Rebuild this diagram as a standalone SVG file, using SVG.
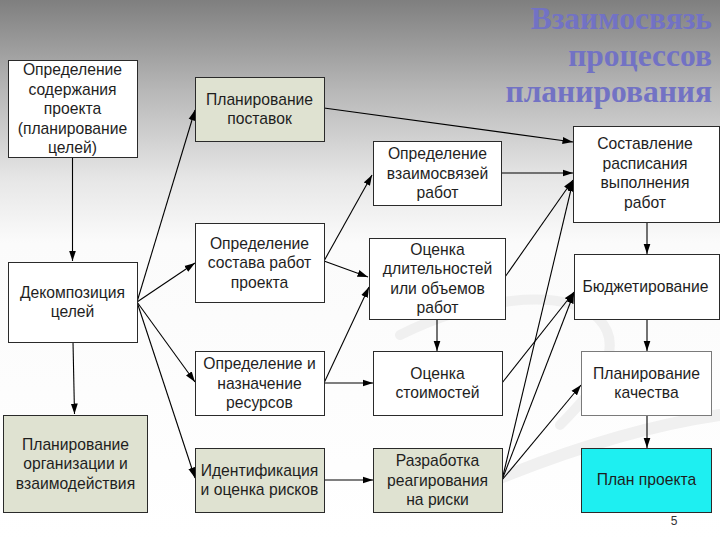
<svg xmlns="http://www.w3.org/2000/svg" width="720" height="540" viewBox="0 0 720 540">
<defs>
<linearGradient id="bg" x1="0" y1="0" x2="0" y2="1" gradientUnits="objectBoundingBox">
<stop offset="0" stop-color="#7f7f7f"/>
<stop offset="0.17" stop-color="#b8b8b8"/>
<stop offset="0.33" stop-color="#e6e6e6"/>
<stop offset="0.45" stop-color="#fbfbfb"/>
<stop offset="1" stop-color="#ffffff"/>
</linearGradient>
<marker id="arr" markerUnits="userSpaceOnUse" markerWidth="11" markerHeight="8" refX="10.5" refY="4" orient="auto">
<path d="M0,0.5 L10.5,4 L0,7.5 z" fill="#000"/>
</marker>
<style>
.box{stroke:#2a2a2a;stroke-width:1}
.w{fill:#ffffff}
.g{fill:#dfe2d1}
.c{fill:#1eeff1}
.t{font-family:"Liberation Sans",Arial,sans-serif;font-size:15.7px;fill:#1e1e1e;text-anchor:middle}
.e{stroke:#000;stroke-width:1.1;fill:none;marker-end:url(#arr)}
.title{font-family:"Liberation Serif","Times New Roman",serif;font-weight:bold;font-size:31.5px;fill:#7272c4;text-anchor:end}
</style>
</defs>
<rect x="0" y="0" width="720" height="540" fill="url(#bg)"/>
<g id="swoosh" fill="none" stroke="#f0f0f0" stroke-linecap="round">
<path d="M400,335 C470,300 560,285 598,318 C630,350 590,395 560,425" stroke-width="10"/>
<path d="M500,478 C570,450 650,425 720,415" stroke-width="12"/>
</g>
<g id="title">
<text class="title" x="712" y="29">Взаимосвязь</text>
<text class="title" x="712" y="65.5">процессов</text>
<text class="title" x="712" y="102">планирования</text>
</g>
<g id="connectors">
<line class="e" x1="72.5" y1="157" x2="72.5" y2="261"/>
<line class="e" x1="73" y1="342" x2="74.5" y2="414"/>
<line class="e" x1="137" y1="302" x2="195" y2="110"/>
<line class="e" x1="137" y1="302" x2="195" y2="263"/>
<line class="e" x1="137" y1="302" x2="195" y2="382"/>
<line class="e" x1="137" y1="302" x2="195" y2="478"/>
<line class="e" x1="324" y1="108" x2="573" y2="142"/>
<line class="e" x1="324" y1="261" x2="372" y2="175"/>
<line class="e" x1="324" y1="261" x2="368" y2="277"/>
<line class="e" x1="324" y1="383" x2="369" y2="287"/>
<line class="e" x1="324" y1="383" x2="373" y2="383"/>
<line class="e" x1="324" y1="480" x2="373" y2="480"/>
<line class="e" x1="501" y1="173" x2="573" y2="173"/>
<line class="e" x1="505" y1="277" x2="573" y2="180"/>
<line class="e" x1="437" y1="319" x2="437" y2="351"/>
<line class="e" x1="502" y1="383" x2="574" y2="292"/>
<line class="e" x1="502" y1="480" x2="573" y2="181"/>
<line class="e" x1="502" y1="480" x2="574" y2="293"/>
<line class="e" x1="502" y1="480" x2="581" y2="385"/>
<line class="e" x1="647" y1="222" x2="647" y2="254"/>
<line class="e" x1="647" y1="319" x2="647" y2="351"/>
<line class="e" x1="647" y1="415" x2="647" y2="448"/>
</g>
<g id="n1"><rect class="box w" x="8.5" y="60.5" width="129" height="97"/>
<text class="t" x="72.5" y="75">Определение</text><text class="t" x="72.5" y="94.5">содержания</text><text class="t" x="72.5" y="114">проекта</text><text class="t" x="72.5" y="133.5">(планирование</text><text class="t" x="72.5" y="153">целей)</text></g>
<g id="n2"><rect class="box g" x="195.5" y="77.5" width="129" height="64"/>
<text class="t" x="259.5" y="104.5">Планирование</text><text class="t" x="259.5" y="124">поставок</text></g>
<g id="n3"><rect class="box w" x="8.5" y="262.5" width="129" height="80"/>
<text class="t" x="72.5" y="297.5">Декомпозиция</text><text class="t" x="72.5" y="317">целей</text></g>
<g id="n4"><rect class="box g" x="3.5" y="415.5" width="144" height="97"/>
<text class="t" x="75.5" y="449.5">Планирование</text><text class="t" x="75.5" y="469">организации и</text><text class="t" x="75.5" y="488.5">взаимодействия</text></g>
<g id="n5"><rect class="box w" x="195.5" y="223.5" width="129" height="79"/>
<text class="t" x="259.5" y="248.5">Определение</text><text class="t" x="259.5" y="268">состава работ</text><text class="t" x="259.5" y="287.5">проекта</text></g>
<g id="n6"><rect class="box w" x="195.5" y="351.5" width="129" height="64"/>
<text class="t" x="259.5" y="369">Определение и</text><text class="t" x="259.5" y="388.5">назначение</text><text class="t" x="259.5" y="408">ресурсов</text></g>
<g id="n7"><rect class="box g" x="195.5" y="448.5" width="129" height="64"/>
<text class="t" x="259.5" y="475.5">Идентификация</text><text class="t" x="259.5" y="495">и оценка рисков</text></g>
<g id="n8"><rect class="box w" x="373.5" y="141.5" width="128" height="64"/>
<text class="t" x="437.5" y="159">Определение</text><text class="t" x="437.5" y="178.5">взаимосвязей</text><text class="t" x="437.5" y="198">работ</text></g>
<g id="n9"><rect class="box w" x="369.5" y="238.5" width="136" height="81"/>
<text class="t" x="437.5" y="254.5">Оценка</text><text class="t" x="437.5" y="274">длительностей</text><text class="t" x="437.5" y="293.5">или объемов</text><text class="t" x="437.5" y="313">работ</text></g>
<g id="n10"><rect class="box w" x="373.5" y="351.5" width="129" height="64"/>
<text class="t" x="437.5" y="378.5">Оценка</text><text class="t" x="437.5" y="398">стоимостей</text></g>
<g id="n11"><rect class="box g" x="373.5" y="448.5" width="129" height="64"/>
<text class="t" x="437.5" y="466">Разработка</text><text class="t" x="437.5" y="485.5">реагирования</text><text class="t" x="437.5" y="505">на риски</text></g>
<g id="n12"><rect class="box w" x="573.5" y="126.5" width="146" height="96"/>
<text class="t" x="645" y="149">Составление</text><text class="t" x="645" y="168.5">расписания</text><text class="t" x="645" y="188">выполнения</text><text class="t" x="645" y="207.5">работ</text></g>
<g id="n13"><rect class="box w" x="574.5" y="254.5" width="145" height="65"/>
<text class="t" x="645.5" y="292">Бюджетирование</text></g>
<g id="n14"><rect class="box w" x="581.5" y="351.5" width="130" height="64" style="stroke:#7a7a7a"/>
<text class="t" x="646.5" y="378.5">Планирование</text><text class="t" x="646.5" y="398">качества</text></g>
<g id="n15"><rect class="box c" x="581.5" y="448.5" width="130" height="64"/>
<text class="t" x="646.5" y="485">План проекта</text></g>
<text x="674" y="525" font-family="Liberation Sans, Arial, sans-serif" font-size="12" fill="#333" text-anchor="middle">5</text>
</svg>
